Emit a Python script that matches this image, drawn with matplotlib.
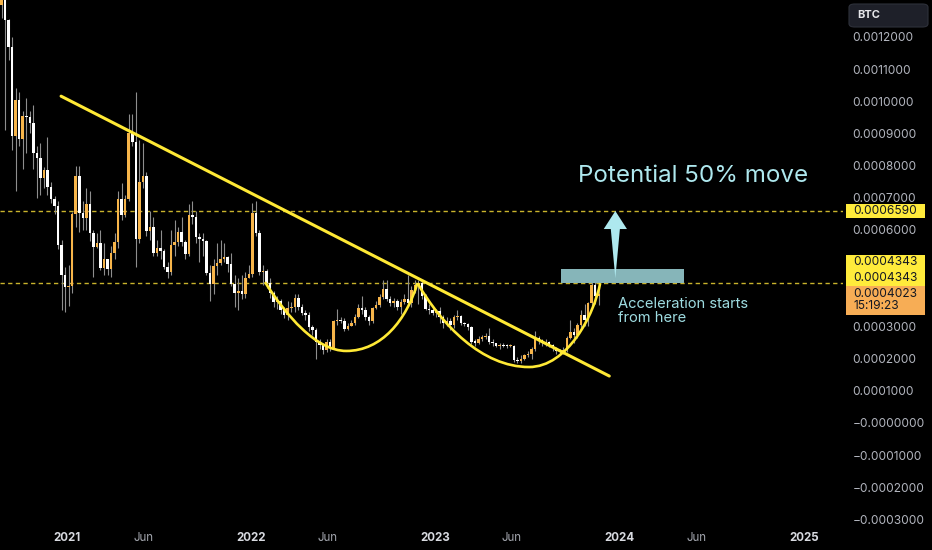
import numpy as np
import pandas as pd
import matplotlib
matplotlib.use('Agg')
import matplotlib.pyplot as plt
import matplotlib.dates as mdates
from matplotlib.patches import Rectangle, Polygon, PathPatch, FancyBboxPatch
from matplotlib.path import Path

plt.rcParams['font.family'] = ['Inter', 'DejaVu Sans']

E = 1e-4  # prices below are in units of 0.0001 BTC

# weekly candles, starting week of 2020-08-24
first_open = 13.00
closes = [13.30, 12.53, 11.69, 8.92, 10.04, 8.83, 9.54, 9.51, 9.33, 8.39,
          8.24, 7.62, 7.86, 7.34, 6.96, 6.75, 5.53, 4.60, 4.23, 4.27,
          6.50, 7.68, 6.53, 6.37, 6.81, 5.91, 5.47, 5.60, 4.82, 5.10,
          4.79, 5.28, 5.63, 6.96, 6.47, 6.96, 9.01, 8.73, 5.72, 7.49,
          7.68, 5.97, 6.09, 5.28, 5.44, 5.35, 4.85, 4.69, 5.53, 5.63,
          5.94, 5.63, 5.25, 6.47, 6.40, 5.78, 5.72, 5.66, 4.66, 4.32,
          4.88, 4.97, 5.10, 5.16, 4.94, 4.32, 4.04, 4.10, 4.01, 4.51,
          4.63, 6.53, 5.91, 4.69, 4.73, 4.35, 4.04, 3.76, 3.80, 3.51,
          3.36, 3.57, 3.61, 3.89, 3.61, 3.42, 3.36, 2.98, 2.89, 2.52,
          2.42, 2.27, 2.52, 2.33, 3.17, 3.20, 3.17, 2.92, 3.02, 3.11,
          3.30, 3.57, 3.51, 3.30, 3.17, 3.57, 3.67, 3.92, 4.17, 3.85,
          3.73, 3.78, 3.61, 3.76, 3.85, 3.73, 4.13, 4.29, 4.35, 3.95,
          3.55, 3.50, 3.42, 3.48, 3.30, 3.11, 3.17, 3.05, 3.30, 3.32,
          3.11, 3.08, 2.98, 2.52, 2.50, 2.61, 2.67, 2.69, 2.52, 2.49,
          2.40, 2.43, 2.40, 2.38, 2.40, 1.96, 1.93, 2.00, 2.11, 2.15,
          2.30, 2.64, 2.58, 2.49, 2.52, 2.42, 2.33, 2.24, 2.21, 2.27,
          2.64, 2.83, 2.74, 3.05, 3.36, 3.20, 3.73, 4.29, 3.95, 4.023]
highs = [13.60, 13.30, 12.55, 12.00, 10.41, 10.30, 9.70, 10.10, 9.70, 9.90,
         8.60, 8.70, 7.95, 8.90, 7.50, 7.05, 6.90, 5.70, 4.85, 4.90,
         6.55, 8.00, 8.00, 6.90, 7.30, 7.20, 6.00, 5.90, 6.00, 5.60,
         5.10, 5.50, 5.90, 7.20, 7.45, 7.10, 9.60, 9.60, 10.30, 8.80,
         8.70, 7.80, 6.60, 6.40, 5.70, 6.00, 5.40, 5.00, 6.00, 6.30,
         6.10, 6.40, 5.70, 6.80, 6.90, 6.60, 5.90, 5.90, 5.70, 4.90,
         5.10, 5.60, 5.70, 5.60, 5.20, 5.30, 4.60, 4.50, 4.60, 4.70,
         4.90, 6.85, 6.90, 6.00, 4.90, 4.80, 4.50, 4.10, 3.95, 3.85,
         3.60, 3.80, 3.75, 4.00, 4.00, 3.70, 3.50, 3.45, 3.05, 2.95,
         2.60, 2.45, 2.60, 2.60, 3.20, 3.55, 3.30, 3.25, 3.10, 3.20,
         3.40, 3.70, 3.95, 3.60, 3.35, 3.60, 3.80, 4.00, 4.45, 4.45,
         3.95, 3.90, 3.85, 3.85, 4.00, 4.60, 4.25, 4.45, 4.45, 4.40,
         4.00, 3.70, 3.60, 3.55, 3.60, 3.35, 3.30, 3.25, 3.35, 3.50,
         3.35, 3.15, 3.10, 3.00, 2.60, 2.70, 2.75, 2.80, 2.95, 2.60,
         2.50, 2.50, 2.48, 2.45, 2.45, 2.42, 2.05, 2.10, 2.15, 2.25,
         2.35, 2.85, 2.70, 2.60, 2.60, 2.55, 2.45, 2.35, 2.30, 2.35,
         2.70, 3.20, 2.95, 3.10, 3.50, 3.70, 3.75, 4.45, 4.45, 4.40]
lows = [12.60, 9.10, 11.28, 8.50, 7.20, 8.60, 7.90, 8.40, 9.00, 7.90,
        7.00, 7.10, 7.30, 7.10, 6.85, 6.50, 5.40, 3.50, 3.45, 3.65,
        4.05, 6.10, 5.95, 6.00, 6.00, 5.65, 4.55, 5.45, 4.75, 4.60,
        4.60, 4.55, 5.10, 5.45, 6.30, 6.40, 6.90, 8.60, 4.85, 5.60,
        7.30, 5.80, 5.70, 5.20, 5.20, 5.10, 4.80, 4.50, 4.60, 5.20,
        5.50, 5.50, 5.10, 5.20, 6.20, 5.60, 5.00, 5.20, 4.60, 3.80,
        4.00, 4.60, 4.90, 5.00, 4.70, 4.25, 3.60, 3.50, 3.85, 3.90,
        4.50, 4.55, 5.80, 4.60, 4.30, 4.20, 3.90, 3.60, 3.55, 3.40,
        3.25, 3.20, 3.45, 3.45, 3.50, 3.35, 3.20, 2.85, 2.75, 2.00,
        2.30, 2.15, 2.20, 2.25, 2.30, 3.05, 3.10, 2.85, 2.90, 3.00,
        3.05, 3.25, 3.40, 3.20, 3.05, 3.10, 3.55, 3.60, 3.85, 3.80,
        3.65, 3.60, 3.50, 3.40, 3.70, 3.65, 3.60, 4.05, 3.70, 3.85,
        3.50, 3.40, 3.35, 3.30, 3.10, 2.95, 3.00, 2.90, 2.95, 3.20,
        3.05, 3.00, 2.90, 2.45, 2.40, 2.45, 2.55, 2.60, 2.45, 2.40,
        2.35, 2.30, 2.35, 2.33, 2.35, 1.90, 1.85, 1.88, 1.95, 2.05,
        2.00, 2.25, 2.45, 2.40, 2.40, 2.35, 2.25, 2.15, 2.10, 2.15,
        2.20, 2.60, 2.50, 2.65, 2.90, 3.00, 3.00, 3.65, 3.70, 3.67]

weeks = pd.date_range('2020-08-24', periods=len(closes), freq='7D')

# levels and drawings
level_top = 6.59
level_mid = 4.343
trend_pts = [('2020-12-20', 10.16), ('2023-12-11', 1.46)]
cup1 = [('2022-01-28', 4.38), ('2022-03-10', 3.36), ('2022-05-09', 2.24), ('2022-07-08', 2.24),
        ('2022-09-16', 2.24), ('2022-11-04', 3.20), ('2022-11-26', 4.35)]
cup2 = [('2022-11-26', 4.35), ('2023-01-13', 3.05), ('2023-04-03', 1.74), ('2023-07-05', 1.74),
        ('2023-09-19', 1.74), ('2023-11-11', 3.36), ('2023-11-23', 4.35)]

yticks = [12, 11, 10, 9, 8, 7, 6, 3, 2, 1, 0, -1, -2, -3]
ylabels = ['0.0012000', '0.0011000', '0.0010000', '0.0009000', '0.0008000', '0.0007000',
           '0.0006000', '0.0003000', '0.0002000', '0.0001000', '\u22120.0000000',
           '\u22120.0001000', '\u22120.0002000', '\u22120.0003000']
xtick_dates = ['2021-01-01', '2021-06-01', '2022-01-01', '2022-06-01', '2023-01-01',
               '2023-06-01', '2024-01-01', '2024-06-01', '2025-01-01']
xtick_labels = ['2021', 'Jun', '2022', 'Jun', '2023', 'Jun', '2024', 'Jun', '2025']

UP = '#f7b54a'
DOWN = '#ffffff'
WICK = '#8e8e8e'
YEL = '#ffe935'
CYAN = '#aee8ee'

def dn(s):
    return mdates.date2num(pd.Timestamp(s))

fig = plt.figure(figsize=(9.32, 5.5), dpi=100, facecolor='black')
ax = fig.add_axes([0, 26 / 550, 843 / 932, 524 / 550], facecolor='black')

x = mdates.date2num(weeks)
c = np.array(closes) * E
o = np.concatenate([[first_open * E], c[:-1]])
h = np.array(highs) * E
l = np.array(lows) * E
up = c >= o
colors = np.where(up, UP, DOWN)

ax.vlines(x, l, h, color=WICK, lw=0.8, zorder=2)
body_h = np.maximum(np.abs(c - o), 0.04 * E)
ax.bar(x, body_h, bottom=np.minimum(o, c), width=5, color=colors, lw=0, zorder=3)

# horizontal dashed levels
for lv in (level_top, level_mid):
    ax.axhline(lv * E, color='#c9b32c', lw=1.0, ls=(0, (3.1, 2.4)), zorder=1)

# trendline
ax.plot([dn(d) for d, _ in trend_pts], [v * E for _, v in trend_pts], color=YEL, lw=2.2,
        solid_capstyle='round', zorder=5)

# cups (two cubic segments each)
for cup in (cup1, cup2):
    verts = [(dn(d), v * E) for d, v in cup]
    codes = [Path.MOVETO] + [Path.CURVE4] * 6
    ax.add_patch(PathPatch(Path(verts, codes), fc='none', ec=YEL, lw=1.9, zorder=5))

# teal zone
ax.add_patch(Rectangle((dn('2023-09-06'), level_mid * E), dn('2024-05-07') - dn('2023-09-06'),
                       0.43 * E, fc='#86b5b9', ec='none', zorder=4))

# arrow
ax_c = dn('2023-12-23')
arrow = [(ax_c, level_top * E), (ax_c + 23, 6.03 * E), (ax_c + 9, 6.03 * E),
         (ax_c, 4.50 * E), (ax_c - 9, 6.03 * E), (ax_c - 23, 6.03 * E)]
ax.add_patch(Polygon(arrow, closed=True, fc=CYAN, ec='none', zorder=6))

ax.text(dn('2023-10-10'), 7.68 * E, 'Potential 50% move', color=CYAN, fontsize=17.4,
        va='center', ha='left', zorder=7)
ax.text(dn('2023-12-29'), 3.48 * E, 'Acceleration starts\nfrom here', color='#9edce1',
        fontsize=10.6, va='center', ha='left', linespacing=1.05, zorder=7)

ax.set_xlim(dn('2020-08-21'), dn('2025-03-18'))
ax.set_ylim(-3.14 * E, 13.15 * E)

for s in ax.spines.values():
    s.set_visible(False)

ax.yaxis.tick_right()
ax.set_yticks([t * E for t in yticks])
ax.set_yticklabels(ylabels)
ax.tick_params(axis='y', length=0, pad=7, labelsize=8.6, labelcolor='#b2b5be')

ax.set_xticks([dn(d) for d in xtick_dates])
ax.set_xticklabels(xtick_labels)
ax.tick_params(axis='x', length=0, pad=6, labelsize=8.3, labelcolor='#a3a6ae')
for lab in ax.get_xticklabels():
    if lab.get_text() != 'Jun':
        lab.set_fontweight('bold')
        lab.set_color('#d8dae0')

# price scale labels
trans = ax.get_yaxis_transform()
boxes = [('0.0006590', 6.37, 6.81, '#ffeb3b'),
         ('0.0004343', 4.76, 5.22, '#ffeb3b'),
         ('0.0004343', 4.26, 4.76, '#ffeb3b'),
         ('0.0004023\n15:19:23', 3.36, 4.26, '#f7ad55')]
for txt, lo, hi, fc in boxes:
    ax.add_patch(Rectangle((1.0036, lo * E), 0.094, (hi - lo) * E, transform=trans,
                           fc=fc, ec='none', clip_on=False, zorder=8))
    ax.text(1.0125, (lo + hi) / 2 * E, txt, transform=trans, color='#131722', fontsize=8.6,
            va='center', ha='left', linespacing=1.0, clip_on=False, zorder=9)

# BTC button
fig.patches.append(FancyBboxPatch((849 / 932, 1 - 27 / 550), 79 / 932, 23 / 550,
                                  boxstyle='round,pad=0,rounding_size=0.006',
                                  transform=fig.transFigure, fc='#1e2029', ec='#2e313a', lw=0.8))
fig.text(857 / 932, 1 - 15.5 / 550, 'BTC', color='#e6e7ea', fontsize=8, fontweight='bold',
         va='center', ha='left')

fig.savefig('out.png', dpi=100, facecolor='black')
